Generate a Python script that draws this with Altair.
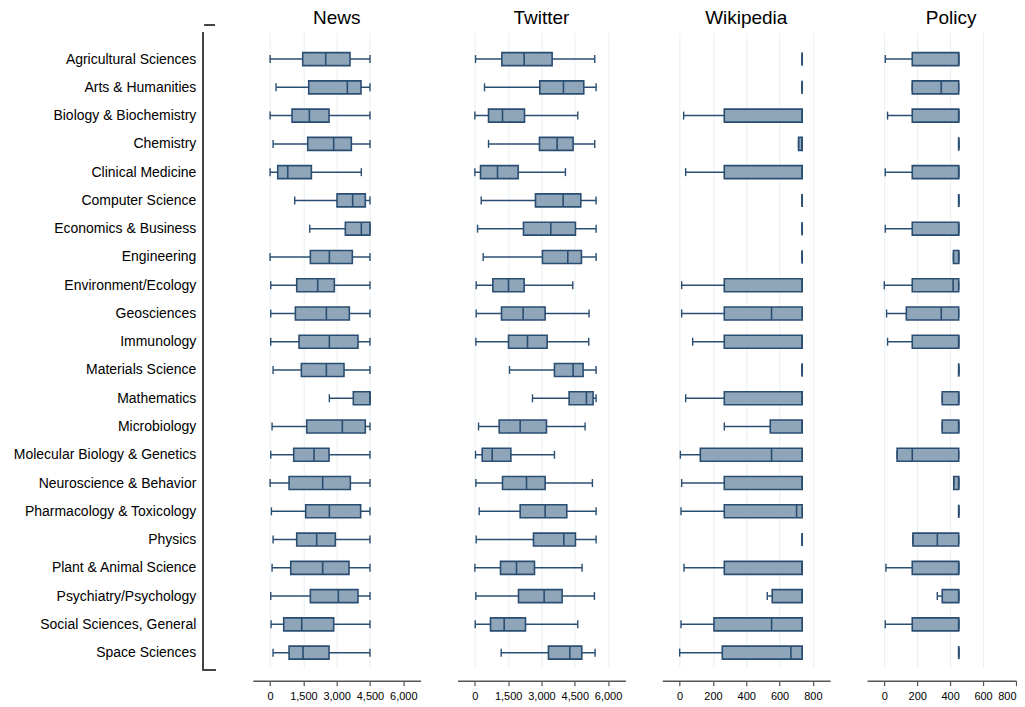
import altair as alt
import pandas as pd

categories = ["Agricultural Sciences", "Arts & Humanities", "Biology & Biochemistry", "Chemistry",
              "Clinical Medicine", "Computer Science", "Economics & Business", "Engineering",
              "Environment/Ecology", "Geosciences", "Immunology", "Materials Science", "Mathematics",
              "Microbiology", "Molecular Biology & Genetics", "Neuroscience & Behavior",
              "Pharmacology & Toxicology", "Physics", "Plant & Animal Science",
              "Psychiatry/Psychology", "Social Sciences, General", "Space Sciences"]

news_min = [0, 270, 0, 135, 0, 1110, 1785, 0, 30, 30, 30, 135, 2670, 90, 30, 0, 60, 135, 90, 30, 45, 135]
news_q1 = [1470, 1740, 990, 1695, 345, 3015, 3390, 1815, 1200, 1140, 1305, 1410, 3750, 1650, 1065, 855, 1605, 1200, 930, 1815, 615, 855]
news_med = [2505, 3480, 1770, 2865, 795, 3720, 4110, 2670, 2145, 2535, 2670, 2535, 4500, 3255, 1980, 2370, 2670, 2100, 2370, 3075, 1425, 1485]
news_q3 = [3600, 4095, 2655, 3660, 1860, 4290, 4500, 3705, 2895, 3570, 3960, 3330, 4500, 4290, 2655, 3615, 4080, 2940, 3555, 3960, 2865, 2655]
news_max = [4500, 4500, 4500, 4500, 4110, 4500, 4500, 4500, 4500, 4500, 4500, 4500, 4500, 4500, 4500, 4500, 4500, 4500, 4500, 4500, 4500, 4500]

tw_min = [30, 435, 0, 615, 0, 285, 120, 375, 60, 60, 45, 1560, 2595, 165, 30, 45, 195, 60, 0, 45, 15, 1185]
tw_q1 = [1215, 2925, 615, 2910, 255, 2730, 2190, 3045, 810, 1200, 1515, 3585, 4245, 1095, 330, 1245, 2040, 2640, 1155, 1965, 705, 3315]
tw_med = [2220, 3990, 1245, 3705, 1020, 3975, 3420, 4185, 1515, 2175, 2370, 4425, 5025, 2040, 780, 2325, 3165, 4005, 1875, 3120, 1320, 4275]
tw_q3 = [3480, 4905, 2235, 4425, 1950, 4770, 4530, 4800, 2220, 3165, 3255, 4875, 5325, 3225, 1620, 3165, 4140, 4530, 2685, 3930, 2280, 4815]
tw_max = [5400, 5460, 4635, 5400, 4080, 5460, 5460, 5460, 4410, 5145, 5130, 5460, 5460, 4965, 3585, 5295, 5460, 5460, 4830, 5385, 4635, 5415]

wiki_min = [736, 736, 24, 714, 36, 736, 736, 736, 12, 12, 78, 736, 36, 268, 4, 12, 8, 736, 26, 526, 8, 0]
wiki_q1 = [736, 736, 268, 714, 268, 736, 736, 736, 268, 268, 268, 736, 268, 544, 124, 268, 268, 736, 268, 556, 206, 256]
wiki_med = [736, 736, 736, 736, 736, 736, 736, 736, 736, 552, 736, 736, 736, 736, 552, 736, 702, 736, 736, 736, 552, 668]
wiki_q3 = [736] * 22
wiki_max = [736] * 22

pol_min = [6, 170, 20, 452, 6, 452, 6, 420, 0, 14, 20, 452, 352, 352, 78, 422, 452, 174, 10, 322, 6, 452]
pol_q1 = [170, 170, 170, 452, 170, 452, 170, 420, 170, 134, 170, 452, 352, 352, 78, 422, 452, 174, 170, 352, 170, 452]
pol_med = [452, 346, 452, 452, 452, 452, 452, 452, 418, 346, 452, 452, 452, 452, 170, 452, 452, 322, 452, 452, 452, 452]
pol_q3 = [452] * 22
pol_max = [452] * 22

titles = ["News", "Twitter", "Wikipedia", "Policy"]
news_ticks = [0, 1500, 3000, 4500, 6000]
small_ticks = [0, 200, 400, 600, 800]

FONT = "Liberation Sans"
FILL = "#8fa6ba"
STROKE = "#2a4e72"
GRID = "#e8f0f2"
AXIS = "#555555"

yscale = alt.Scale(type="point", padding=0.74, align=0.64)


def panel(title, mn, q1, md, q3, mx, domain, ticks, width, hide_last_grid, first, right_last):
    df = pd.DataFrame({"cat": categories, "mn": mn, "q1": q1, "md": md, "q3": q3, "mx": mx})
    if first:
        yaxis = alt.Axis(title=None, ticks=False, domain=False, grid=False, offset=50,
                         labelFontSize=14, labelFont=FONT, labelColor="black", labelPadding=7,
                         labelLimit=400)
    else:
        yaxis = None
    y = alt.Y("cat:N", sort=categories, scale=yscale, axis=yaxis)
    grid_color = GRID
    if hide_last_grid:
        grid_color = {"condition": {"test": "datum.value >= %d" % ticks[-1], "value": "transparent"},
                      "value": GRID}
    label_align = "center"
    if right_last:
        label_align = {"condition": {"test": "datum.value >= %d" % ticks[-1], "value": "right"},
                       "value": "center"}
    xaxis = alt.Axis(title=None, values=ticks, tickCount=len(ticks), format=",.0f", grid=True,
                     gridColor=grid_color, gridWidth=1, domainColor=AXIS, domainWidth=1.4,
                     tickColor=AXIS, tickWidth=1.2, tickSize=5, labelFontSize=11, labelFont=FONT,
                     labelColor="black", labelPadding=5, offset=13, labelAlign=label_align,
                     labelOverlap=False, labelFlush=False, labelBound=False)
    x = alt.X("mn:Q", scale=alt.Scale(domain=domain, nice=False, zero=False), axis=xaxis)
    base = alt.Chart(df)
    whisker = base.mark_rule(color=STROKE, strokeWidth=1.5).encode(x=x, x2="mx:Q", y=y)
    box = base.mark_bar(size=13, fill=FILL, stroke=STROKE, strokeWidth=1.6).encode(
        x=alt.X("q1:Q"), x2="q3:Q", y=y)
    median = base.mark_tick(size=13, thickness=1.6, color=STROKE, opacity=1).encode(x="md:Q", y=y)
    cap_lo = base.mark_tick(size=8, thickness=1.4, color=STROKE, opacity=1).encode(x="mn:Q", y=y)
    cap_hi = base.mark_tick(size=8, thickness=1.4, color=STROKE, opacity=1).encode(x="mx:Q", y=y)
    head = alt.Chart(pd.DataFrame({"t": [title]})).mark_text(
        fontSize=19, font=FONT, color="black", baseline="alphabetic", align="center").encode(
        text="t:N", x=alt.value(84), y=alt.value(-8))
    layers = [whisker, box, median, cap_lo, cap_hi, head]
    if first:
        line_v = base.mark_rule(color="#444444", strokeWidth=1.3).encode(
            x=alt.value(-50), y=alt.value(0), y2=alt.value(638))
        line_b = base.mark_rule(color="#444444", strokeWidth=1.3).encode(
            x=alt.value(-50), x2=alt.value(-37), y=alt.value(638))
        line_t = base.mark_rule(color="#444444", strokeWidth=1.3).encode(
            x=alt.value(-48), x2=alt.value(-38), y=alt.value(-7))
        layers += [line_v, line_b, line_t]
    return alt.layer(*layers).properties(width=width, height=636)


p1 = panel(titles[0], news_min, news_q1, news_med, news_q3, news_max, [-780, 6780], news_ticks, 168, True, True, False)
p2 = panel(titles[1], tw_min, tw_q1, tw_med, tw_q3, tw_max, [-780, 6780], news_ticks, 168, False, False, False)
p3 = panel(titles[2], wiki_min, wiki_q1, wiki_med, wiki_q3, wiki_max, [-104, 904], small_ticks, 168, False, False, False)
p4 = panel(titles[3], pol_min, pol_q1, pol_med, pol_q3, pol_max, [-104, 800], small_ticks, 149, True, False, True)

chart = alt.hconcat(p1, p2, p3, p4, spacing=37).properties(
    padding={"left": 5, "top": 1, "right": 0, "bottom": 0}
).configure(background="white").configure_view(stroke=None)

chart.save("out.html", embed_options={"renderer": "svg", "actions": False})
